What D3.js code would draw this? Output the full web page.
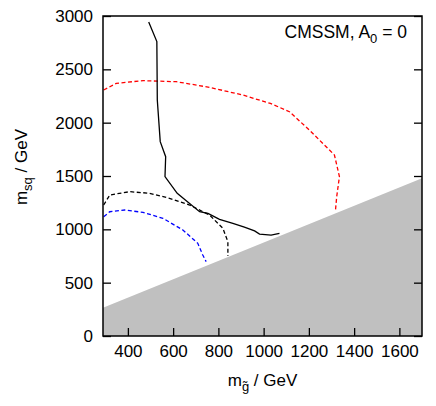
<!DOCTYPE html>
<html>
<head>
<meta charset="utf-8">
<script src="https://cdn.jsdelivr.net/npm/d3@7"></script>
<style>
  body { margin: 0; background: #fff; }
  text { font-family: "Liberation Sans", Arial, sans-serif; }
</style>
</head>
<body>
<div class="chart"></div>
<script>
// Exclusion contours in the (m_gluino, m_squark) plane
var svgWidth = 436;
var svgHeight = 406;

var margin = { top: 16, right: 14, bottom: 70, left: 103 };
var width = svgWidth - margin.left - margin.right;
var height = svgHeight - margin.top - margin.bottom;

// tick values
var xTicks = [400, 600, 800, 1000, 1200, 1400, 1600];
var yTicks = [0, 500, 1000, 1500, 2000, 2500, 3000];

// solid black contour
var solidX = [492, 528, 530, 543, 567, 564, 618, 658, 717, 754, 805, 864, 915, 960, 982, 1033, 1070];
var solidY = [2944, 2760, 2212, 1822, 1681, 1494, 1338, 1268, 1165, 1150, 1094, 1056, 1020, 985, 956, 945, 963];

// black dashed contour
var blackDashX = [293, 320, 408, 496, 584, 673, 761, 820, 842, 842];
var blackDashY = [1228, 1322, 1353, 1338, 1291, 1228, 1134, 1010, 884, 750];

// blue dashed contour
var blueDashX = [293, 320, 386, 467, 555, 643, 709, 731, 746];
var blueDashY = [1119, 1165, 1181, 1159, 1103, 994, 869, 759, 697];

// red dashed contour
var redDashX = [293, 349, 467, 614, 761, 908, 1030, 1114, 1202, 1313, 1335, 1323, 1317];
var redDashY = [2306, 2369, 2394, 2384, 2331, 2259, 2180, 2103, 1931, 1697, 1494, 1306, 1166];

// excluded (grey) region boundary
var exclX = [290, 1700];
var exclY = [265, 1480];

var svg = d3.select(".chart")
  .append("svg")
  .attr("width", svgWidth)
  .attr("height", svgHeight);

var chart = svg.append("g")
  .attr("transform", "translate(" + margin.left + "," + margin.top + ")");

var x = d3.scaleLinear().domain([290, 1700]).range([0, width]);
var y = d3.scaleLinear().domain([0, 3000]).range([height, 0]);

chart.append("clipPath").attr("id", "clip")
  .append("rect").attr("width", width).attr("height", height);

var line = d3.line()
  .x(function(d) { return x(d[0]); })
  .y(function(d) { return y(d[1]); });

function zipXY(xs, ys) {
  return xs.map(function(v, i) { return [v, ys[i]]; });
}

var plot = chart.append("g").attr("clip-path", "url(#clip)");

plot.append("path")
  .attr("d", line(zipXY(redDashX, redDashY)))
  .attr("fill", "none").attr("stroke", "#ff0000")
  .attr("stroke-width", 1.3).attr("stroke-dasharray", "4,2.5");

plot.append("path")
  .attr("d", line(zipXY(blackDashX, blackDashY)))
  .attr("fill", "none").attr("stroke", "#000")
  .attr("stroke-width", 1.3).attr("stroke-dasharray", "4,2.5");

plot.append("path")
  .attr("d", line(zipXY(blueDashX, blueDashY)))
  .attr("fill", "none").attr("stroke", "#0000ff")
  .attr("stroke-width", 1.3).attr("stroke-dasharray", "4,2.5");

plot.append("path")
  .attr("d", line(zipXY(solidX, solidY)))
  .attr("fill", "none").attr("stroke", "#000")
  .attr("stroke-width", 1.3);

// grey excluded area below the boundary line
var excl = zipXY(exclX, exclY);
excl.push([exclX[1], 0]);
excl.push([exclX[0], 0]);
plot.append("path")
  .attr("d", line(excl) + "Z")
  .attr("fill", "#c0c0c0")
  .attr("stroke", "none");

// axes with inward ticks
var fmt = d3.format("d");
var xAxis = d3.axisBottom(x).tickValues(xTicks).tickFormat(fmt).tickSizeInner(-8).tickSizeOuter(0).tickPadding(9);
var yAxis = d3.axisLeft(y).tickValues(yTicks).tickFormat(fmt).tickSizeInner(-8).tickSizeOuter(0).tickPadding(10);
var yAxisR = d3.axisRight(y).tickValues(yTicks).tickSizeInner(-8).tickSizeOuter(0).tickFormat("");

chart.append("g").attr("transform", "translate(0," + height + ")").call(xAxis);
chart.append("g").call(yAxis);
chart.append("g").attr("transform", "translate(" + width + ",0)").call(yAxisR);

chart.selectAll(".domain").remove();
chart.selectAll(".tick line").attr("stroke", "#000").attr("stroke-width", 1.3);
chart.selectAll(".tick text")
  .attr("fill", "#000")
  .style("font-size", "17px")
  .style("font-family", "'Liberation Sans', Arial, sans-serif");

// frame
chart.append("rect")
  .attr("width", width).attr("height", height)
  .attr("fill", "none").attr("stroke", "#000").attr("stroke-width", 1.5);

// annotation
var ann = chart.append("text")
  .attr("x", width - 15).attr("y", 22)
  .attr("text-anchor", "end")
  .style("font-size", "17.5px");
ann.append("tspan").text("CMSSM, A");
ann.append("tspan").attr("dy", 5).style("font-size", "13px").text("0");
ann.append("tspan").attr("dy", -5).text(" = 0");

// x label
var xl = svg.append("text")
  .attr("x", margin.left + width / 2).attr("y", 386)
  .attr("text-anchor", "middle")
  .style("font-size", "17px");
xl.append("tspan").text("m");
xl.append("tspan").attr("dy", 5).style("font-size", "13px").text("g\u0303");
xl.append("tspan").attr("dy", -5).text(" / GeV");

// y label
var yl = svg.append("text")
  .attr("transform", "translate(27,167) rotate(-90)")
  .attr("text-anchor", "middle")
  .style("font-size", "17px");
yl.append("tspan").text("m");
yl.append("tspan").attr("dy", 5).style("font-size", "13px").text("sq");
yl.append("tspan").attr("dy", -5).text(" / GeV");
</script>
</body>
</html>
